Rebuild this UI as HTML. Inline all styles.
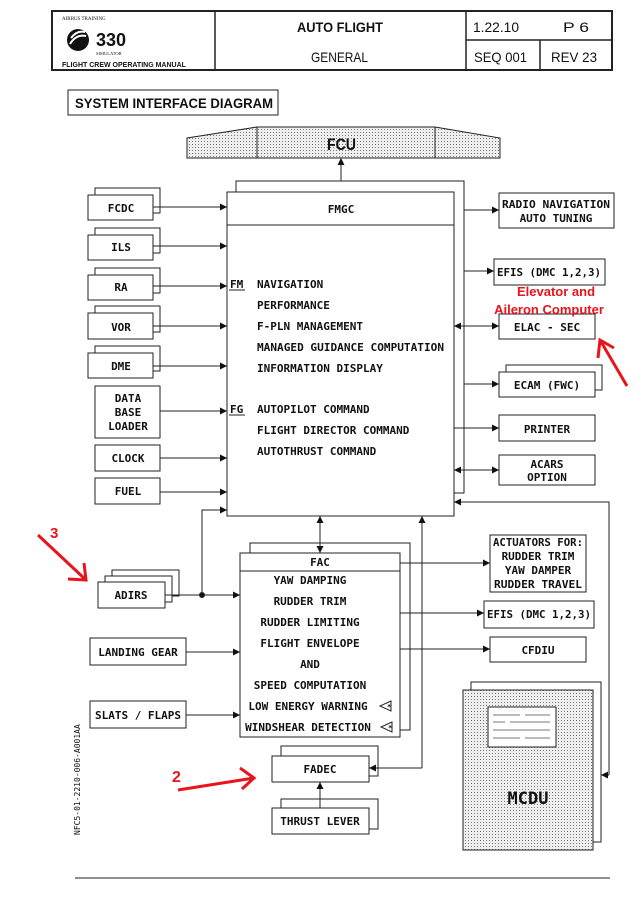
<!DOCTYPE html>
<html><head><meta charset="utf-8"><style>
body{margin:0;background:#fff}
svg{display:block}
text{font-family:"DejaVu Sans Mono","Liberation Mono",monospace;font-size:11px;font-weight:bold;fill:#111}
.s{font-family:"Liberation Sans",sans-serif;font-weight:normal}
</style></head><body>
<svg width="643" height="910" viewBox="0 0 643 910" xmlns="http://www.w3.org/2000/svg">
<defs>
<marker id="a" viewBox="0 0 10 10" refX="10" refY="5" markerWidth="9" markerHeight="7" orient="auto-start-reverse" markerUnits="userSpaceOnUse"><path d="M0,0L10,5L0,10z" fill="#111"/></marker>
<pattern id="dot" width="3" height="3" patternUnits="userSpaceOnUse"><rect width="3" height="3" fill="#eee"/><rect width="1" height="1" fill="#777"/></pattern>
</defs>
<g fill="none" stroke="#222" stroke-width="1">
<rect x="52" y="11" width="560" height="59" stroke-width="2"/>
<line x1="215" y1="11" x2="215" y2="70" stroke-width="1.5"/>
<line x1="466" y1="11" x2="466" y2="70" stroke-width="1.5"/>
<line x1="466" y1="40" x2="612" y2="40" stroke-width="1.5"/>
<line x1="540" y1="40" x2="540" y2="70" stroke-width="1.5"/>
<rect x="68" y="90" width="210" height="25"/>
<path d="M187,138 L257,127 L435,127 L500,138 L500,158 L187,158 Z" fill="url(#dot)"/>
<line x1="257" y1="127" x2="257" y2="158"/><line x1="435" y1="127" x2="435" y2="158"/>
<line x1="341" y1="158" x2="341" y2="192" marker-start="url(#a)" marker-end="url(#a)"/>
<rect x="236" y="181" width="228" height="312" fill="#fff"/>
<rect x="227" y="192" width="227" height="324" fill="#fff"/>
<line x1="227" y1="225" x2="454" y2="225"/>
<rect x="95" y="188" width="65" height="25"/><rect x="88" y="195" width="65" height="25" fill="#fff"/>
<rect x="95" y="228" width="65" height="25"/><rect x="88" y="235" width="65" height="25" fill="#fff"/>
<rect x="95" y="268" width="65" height="25"/><rect x="88" y="275" width="65" height="25" fill="#fff"/>
<rect x="95" y="306" width="65" height="26"/><rect x="88" y="313" width="65" height="26" fill="#fff"/>
<rect x="95" y="346" width="65" height="25"/><rect x="88" y="353" width="65" height="25" fill="#fff"/>
<rect x="95" y="386" width="65" height="52"/>
<rect x="95" y="445" width="65" height="26"/>
<rect x="95" y="478" width="65" height="26"/>
<line x1="153" y1="207" x2="227" y2="207" marker-end="url(#a)"/>
<line x1="153" y1="246" x2="227" y2="246" marker-end="url(#a)"/>
<line x1="153" y1="286" x2="227" y2="286" marker-end="url(#a)"/>
<line x1="153" y1="326" x2="227" y2="326" marker-end="url(#a)"/>
<line x1="153" y1="366" x2="227" y2="366" marker-end="url(#a)"/>
<line x1="160" y1="411" x2="227" y2="411" marker-end="url(#a)"/>
<line x1="160" y1="458" x2="227" y2="458" marker-end="url(#a)"/>
<line x1="160" y1="492" x2="227" y2="492" marker-end="url(#a)"/>
<line x1="229" y1="290" x2="245" y2="290"/><line x1="229" y1="415" x2="245" y2="415"/>
<rect x="499" y="193" width="115" height="35"/>
<rect x="494" y="259" width="111" height="26"/>
<rect x="499" y="314" width="96" height="25"/>
<rect x="506" y="365" width="96" height="25"/><rect x="499" y="372" width="96" height="25" fill="#fff"/>
<rect x="499" y="415" width="96" height="26"/>
<rect x="499" y="455" width="96" height="30"/>
<line x1="464" y1="210" x2="499" y2="210" marker-end="url(#a)"/>
<line x1="464" y1="271" x2="494" y2="271" marker-end="url(#a)"/>
<line x1="454" y1="326" x2="499" y2="326" marker-start="url(#a)" marker-end="url(#a)"/>
<line x1="464" y1="384" x2="499" y2="384" marker-end="url(#a)"/>
<line x1="454" y1="428" x2="499" y2="428" marker-end="url(#a)"/>
<line x1="454" y1="470" x2="499" y2="470" marker-start="url(#a)" marker-end="url(#a)"/>
<polyline points="609,775 609,502 454,502" marker-end="url(#a)"/>
<line x1="609" y1="775" x2="601" y2="775" marker-end="url(#a)"/>
<rect x="250" y="543" width="160" height="187" fill="#fff"/>
<rect x="240" y="553" width="160" height="184" fill="#fff"/>
<line x1="240" y1="571" x2="400" y2="571"/>
<line x1="320" y1="516" x2="320" y2="553" marker-start="url(#a)" marker-end="url(#a)"/>
<rect x="112" y="570" width="67" height="26"/><rect x="105" y="576" width="67" height="26" fill="#fff"/><rect x="98" y="582" width="67" height="26" fill="#fff"/>
<line x1="165" y1="595" x2="240" y2="595" marker-end="url(#a)"/>
<polyline points="202,595 202,510 227,510" marker-end="url(#a)"/>
<circle cx="202" cy="595" r="2.5" fill="#111"/>
<rect x="90" y="638" width="96" height="27"/>
<line x1="186" y1="652" x2="240" y2="652" marker-end="url(#a)"/>
<rect x="90" y="701" width="96" height="27"/>
<line x1="186" y1="715" x2="240" y2="715" marker-end="url(#a)"/>
<rect x="490" y="535" width="96" height="57"/>
<line x1="400" y1="563" x2="490" y2="563" marker-end="url(#a)"/>
<rect x="484" y="601" width="110" height="27"/>
<line x1="400" y1="613" x2="484" y2="613" marker-end="url(#a)"/>
<rect x="490" y="637" width="96" height="25"/>
<line x1="400" y1="649" x2="490" y2="649" marker-end="url(#a)"/>
<path d="M391,701 L380,706 L391,711 Z"/><path d="M392,722 L381,727 L392,732 Z"/>
<rect x="281" y="746" width="97" height="30"/><rect x="272" y="756" width="97" height="26" fill="#fff"/>
<polyline points="422,768 422,516" marker-end="url(#a)"/>
<line x1="422" y1="768" x2="369" y2="768" marker-end="url(#a)"/>
<rect x="281" y="799" width="97" height="30"/><rect x="272" y="808" width="97" height="26" fill="#fff"/>
<line x1="320" y1="808" x2="320" y2="782" marker-end="url(#a)"/>
<rect x="471" y="682" width="130" height="160"/>
<rect x="463" y="690" width="130" height="160" fill="url(#dot)"/>
<rect x="488" y="707" width="68" height="40" fill="#fff"/>
<g stroke="#777"><line x1="493" y1="715" x2="520" y2="715"/><line x1="525" y1="715" x2="550" y2="715"/><line x1="493" y1="722" x2="505" y2="722"/><line x1="510" y1="722" x2="550" y2="722"/><line x1="493" y1="730" x2="550" y2="730"/><line x1="493" y1="738" x2="520" y2="738"/><line x1="525" y1="738" x2="550" y2="738"/></g>
<line x1="75" y1="878" x2="610" y2="878"/>
</g>
<text class="s" x="62" y="20" style="font-size:5px;font-family:'Liberation Serif',serif">AIRBUS TRAINING</text>
<circle cx="78" cy="40" r="11" fill="#111"/>
<path d="M70,44 q6,-10 16,-8 M71,38 q6,-8 14,-6" stroke="#fff" stroke-width="2" fill="none"/>
<text class="s" x="96" y="46" style="font-size:18px;font-weight:bold">330</text>
<text class="s" x="96" y="55" style="font-size:4.5px;font-family:'Liberation Serif',serif">SIMULATOR</text>
<text class="s" x="62" y="67" style="font-size:7px;font-weight:bold">FLIGHT CREW OPERATING MANUAL</text>
<text class="s" x="297" y="32" textLength="86" lengthAdjust="spacingAndGlyphs" style="font-size:14px;font-weight:bold">AUTO FLIGHT</text>
<text class="s" x="311" y="62" textLength="57" lengthAdjust="spacingAndGlyphs" style="font-size:14px">GENERAL</text>
<text class="s" x="473" y="32" textLength="46" lengthAdjust="spacingAndGlyphs" style="font-size:14px">1.22.10</text>
<text class="s" x="563" y="32" textLength="26" lengthAdjust="spacingAndGlyphs" style="font-size:14px">P 6</text>
<text class="s" x="474" y="62" textLength="53" lengthAdjust="spacingAndGlyphs" style="font-size:14px">SEQ 001</text>
<text class="s" x="551" y="62" textLength="46" lengthAdjust="spacingAndGlyphs" style="font-size:14px">REV 23</text>
<text class="s" x="75" y="108" textLength="198" lengthAdjust="spacingAndGlyphs" style="font-size:14px;font-weight:bold">SYSTEM INTERFACE DIAGRAM</text>
<text class="s" x="327" y="150" textLength="29" lengthAdjust="spacingAndGlyphs" style="font-size:17px;font-weight:bold">FCU</text>
<g text-anchor="middle">
<text x="341" y="213">FMGC</text>
<text x="121" y="212">FCDC</text><text x="121" y="251">ILS</text><text x="121" y="291">RA</text><text x="121" y="331">VOR</text><text x="121" y="370">DME</text>
<text x="128" y="402">DATA</text><text x="128" y="416">BASE</text><text x="128" y="430">LOADER</text>
<text x="128" y="462">CLOCK</text><text x="128" y="495">FUEL</text>
<text x="556" y="208" textLength="108" lengthAdjust="spacingAndGlyphs">RADIO NAVIGATION</text><text x="556" y="222">AUTO TUNING</text>
<text x="549" y="276" textLength="104" lengthAdjust="spacingAndGlyphs">EFIS (DMC 1,2,3)</text>
<text x="547" y="331">ELAC - SEC</text>
<text x="547" y="389">ECAM (FWC)</text>
<text x="547" y="433">PRINTER</text>
<text x="547" y="468">ACARS</text><text x="547" y="481">OPTION</text>
<text x="320" y="566">FAC</text>
<text x="310" y="584">YAW DAMPING</text><text x="310" y="605">RUDDER TRIM</text><text x="310" y="626">RUDDER LIMITING</text><text x="310" y="647">FLIGHT ENVELOPE</text><text x="310" y="668">AND</text><text x="310" y="689">SPEED COMPUTATION</text><text x="308" y="710">LOW ENERGY WARNING</text><text x="308" y="731">WINDSHEAR DETECTION</text>
<text x="131" y="599">ADIRS</text><text x="138" y="656">LANDING GEAR</text><text x="138" y="719">SLATS / FLAPS</text>
<text x="538" y="546" textLength="90" lengthAdjust="spacingAndGlyphs">ACTUATORS FOR:</text><text x="538" y="560">RUDDER TRIM</text><text x="538" y="574">YAW DAMPER</text><text x="538" y="588" textLength="88" lengthAdjust="spacingAndGlyphs">RUDDER TRAVEL</text>
<text x="539" y="618" textLength="104" lengthAdjust="spacingAndGlyphs">EFIS (DMC 1,2,3)</text><text x="538" y="654">CFDIU</text>
<text x="320" y="773">FADEC</text><text x="320" y="825">THRUST LEVER</text>
<text x="528" y="804" style="font-size:17px">MCDU</text>
</g>
<text x="387" y="709" style="font-size:7px">*</text><text x="388" y="730" style="font-size:7px">*</text>
<g>
<text x="230" y="288">FM</text><text x="257" y="288">NAVIGATION</text>
<text x="257" y="309">PERFORMANCE</text><text x="257" y="330">F-PLN MANAGEMENT</text><text x="257" y="351" textLength="187" lengthAdjust="spacingAndGlyphs">MANAGED GUIDANCE COMPUTATION</text><text x="257" y="372">INFORMATION DISPLAY</text>
<text x="230" y="413">FG</text><text x="257" y="413">AUTOPILOT COMMAND</text><text x="257" y="434">FLIGHT DIRECTOR COMMAND</text><text x="257" y="455">AUTOTHRUST COMMAND</text>
</g>
<text x="80" y="835" transform="rotate(-90 80 835)" style="font-size:8px;font-weight:normal">NFC5-01-2210-006-A001AA</text>
<text class="s" x="556" y="296" text-anchor="middle" style="font-weight:bold;font-size:13px;fill:#e8141b">Elevator and</text>
<text class="s" x="549" y="314" text-anchor="middle" style="font-weight:bold;font-size:13px;fill:#e8141b">Aileron Computer</text>
<text class="s" x="50" y="538" style="font-weight:bold;font-size:15px;fill:#e8141b">3</text>
<text class="s" x="172" y="782" style="font-weight:bold;font-size:16px;fill:#e8141b">2</text>
<g stroke="#e8141b" stroke-width="3" fill="none">
<line x1="627" y1="386" x2="600" y2="340"/><polyline points="598,358 600,340 614,348"/>
<line x1="38" y1="535" x2="86" y2="580"/><polyline points="68,579 86,580 84,563"/>
<line x1="178" y1="790" x2="254" y2="778"/><polyline points="240,768 254,778 242,789"/>
</g>
</svg>
</body></html>
